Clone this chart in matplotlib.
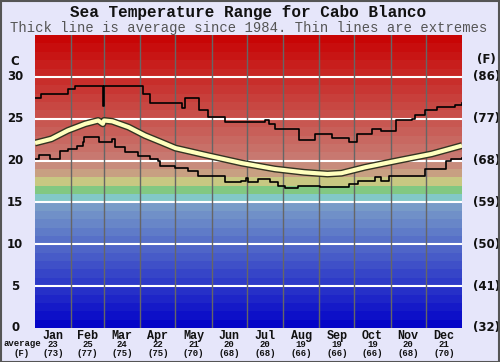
import numpy as np
import matplotlib
matplotlib.use('Agg')
import matplotlib.pyplot as plt
from matplotlib.patches import Rectangle

# data (day of year, deg C)
max_days = [0, 5, 13, 28, 34, 57, 58, 59, 90, 92, 98, 105, 126, 128, 138, 140, 148, 162, 190, 197,
            200, 205, 225, 226, 236, 239, 254, 268, 275, 288, 296, 305, 309, 322, 325, 333, 344, 359, 365]
max_temp = [27.5, 28.0, 28.0, 28.6, 28.9, 28.9, 26.5, 28.9, 28.9, 28.0, 26.9, 26.9, 26.3, 27.5, 27.5,
            26.0, 25.2, 24.6, 24.6, 24.8, 24.4, 23.8, 23.8, 22.5, 22.5, 23.2, 22.7, 22.2, 23.2, 23.8,
            23.6, 23.6, 24.8, 25.0, 25.4, 26.0, 26.4, 26.7, 26.9]

avg_days = [0, 14, 28, 43, 54, 58, 59, 66, 80, 94, 108, 120, 148, 177, 205, 230, 250, 262, 282,
            310, 339, 365]
avg_temp = [22.1, 22.6, 23.6, 24.4, 24.8, 24.4, 24.8, 24.7, 24.0, 23.0, 22.2, 21.5, 20.6, 19.7,
            19.0, 18.6, 18.4, 18.5, 19.2, 20.0, 20.8, 21.8]

min_days = [0, 3, 11, 13, 20, 21, 28, 36, 41, 42, 54, 55, 66, 68, 77, 88, 98, 105, 107, 120, 131,
            139, 162, 176, 180, 182, 191, 201, 208, 214, 225, 244, 268, 276, 291, 296, 303, 333,
            351, 356, 365]
min_temp = [20.2, 20.7, 20.7, 20.2, 20.2, 21.1, 21.4, 21.8, 22.2, 22.8, 22.8, 22.2, 22.6, 21.6,
            21.0, 20.6, 20.2, 20.0, 19.3, 19.1, 18.8, 18.2, 17.4, 17.6, 17.9, 17.4, 17.8, 17.4, 17.0,
            16.7, 17.0, 16.9, 17.2, 17.6, 18.0, 17.6, 18.2, 19.0, 20.0, 20.2, 20.3]

months = ['Jan', 'Feb', 'Mar', 'Apr', 'May', 'Jun', 'Jul', 'Aug', 'Sep', 'Oct', 'Nov', 'Dec']
month_avg_c = [23, 25, 24, 22, 21, 20, 20, 19, 19, 19, 20, 21]
month_avg_f = [73, 77, 75, 75, 70, 68, 68, 66, 66, 66, 68, 70]
c_ticks = [0, 5, 10, 15, 20, 25, 30]
f_labels = ['(32)', '(41)', '(50)', '(59)', '(68)', '(77)', '(86)']
month_len = [31, 28, 31, 30, 31, 30, 31, 31, 30, 31, 30, 31]

# colour per one-degree band
band_colors = {15: '#82c8c8', 16: '#82c882', 17: '#c8c882', 18: '#c8a082', 19: '#c88c7c'}


def band_color(t):
    if t in band_colors:
        return band_colors[t]
    if t < 15:
        f = t / 14.0
        r = 5 + f * 115
        g = 5 + f * 150
        b = 200
        return (r / 255, g / 255, b / 255)
    f = (t - 20) / 14.0
    r = 200
    g = 120 - f * 115
    b = 112 - f * 107
    return (r / 255, g / 255, b / 255)


bg = '#e6e6fa'
mono = 'Liberation Mono'

fig = plt.figure(figsize=(5, 3.62), dpi=100, facecolor=bg)
ax = fig.add_axes([0.07, 0.094, 0.854, 0.809])
ax.set_xlim(0, 365)
ax.set_ylim(0, 35)

for t in range(35):
    ax.axhspan(t, t + 1, color=band_color(t), lw=0, zorder=0)

for t in c_ticks[1:]:
    ax.axhline(t, color='white', lw=1.5, zorder=1)

edges = np.cumsum(month_len)
for e in edges[:-1]:
    ax.axvline(e, color='#666666', lw=1, zorder=1)

ax.plot(max_days, max_temp, color='black', lw=1.2, drawstyle='steps-post', zorder=3)
ax.plot(min_days, min_temp, color='black', lw=1.2, drawstyle='steps-post', zorder=3)
ax.plot(avg_days, avg_temp, color='#333322', lw=5, solid_capstyle='butt', zorder=4)
ax.plot(avg_days, avg_temp, color='#ffffbe', lw=3, solid_capstyle='butt', zorder=5)

ax.set_xticks([])
ax.set_yticks([])
for s in ax.spines.values():
    s.set_visible(False)

# axis labels
for t, fl in zip(c_ticks, f_labels):
    ax.text(-17, t, str(t), ha='center', va='center', fontsize=8.5, fontweight='bold',
            color='#111111', clip_on=False)
    ax.text(386, t, fl, ha='center', va='center', fontsize=8.5, fontweight='bold',
            color='#111111', clip_on=False)
ax.text(-17, 31.9, 'C', ha='center', va='center', fontsize=8.5, fontweight='bold', color='#111111')
ax.text(386, 32.1, '(F)', ha='center', va='center', fontsize=8.5, fontweight='bold', color='#111111')

starts = np.concatenate([[0], edges[:-1]])
mids = starts + np.array(month_len) / 2
for m, c, f, x in zip(months, month_avg_c, month_avg_f, mids):
    ax.text(x, -0.9, m, ha='center', va='center', fontsize=8.5, fontweight='bold',
            family=mono, color='#111111', clip_on=False)
    ax.text(x, -2.0, str(c), ha='center', va='center', fontsize=6.5, fontweight='bold',
            family=mono, color='#111111', clip_on=False)
    ax.text(x, -3.1, '(%d)' % f, ha='center', va='center', fontsize=6.5, fontweight='bold',
            family=mono, color='#111111', clip_on=False)

fig.text(0.044, (362 - 344) / 362, 'average', ha='center', va='center', fontsize=6.5,
         fontweight='bold', family=mono, color='#111111')
fig.text(0.044, (362 - 353) / 362, '(F)', ha='center', va='center', fontsize=6.5,
         fontweight='bold', family=mono, color='#111111')

fig.text(0.497, (362 - 12) / 362, 'Sea Temperature Range for Cabo Blanco', ha='center',
         va='center', fontsize=11.5, fontweight='bold', family=mono, color='#111111')
fig.text(0.497, (362 - 28) / 362, 'Thick line is average since 1984. Thin lines are extremes',
         ha='center', va='center', fontsize=10, family=mono, color='#555555')

fig.add_artist(Rectangle((0.001, 0.001), 0.997, 0.996, transform=fig.transFigure,
                         fill=False, edgecolor='#555555', lw=1.5))

fig.savefig('out.png', dpi=100, facecolor=bg)
